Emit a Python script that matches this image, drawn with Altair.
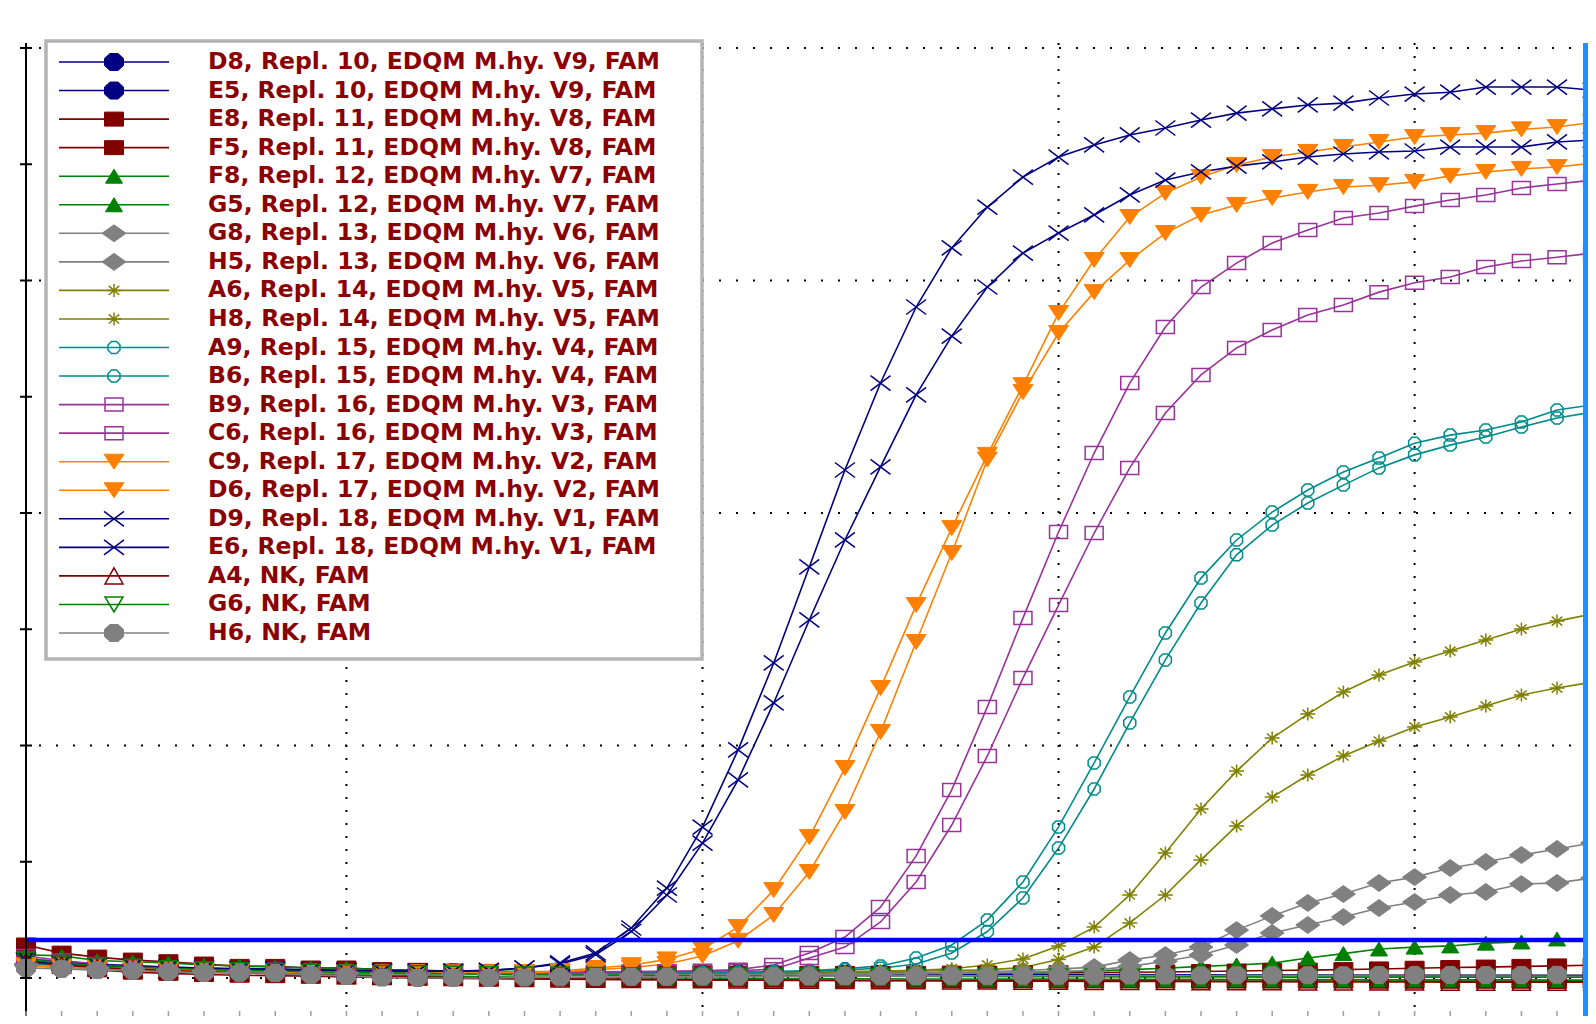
import math
import altair as alt
import pandas as pd

# ---------------- data ----------------
cycles = list(range(1, 46))

labels = [
    "D8, Repl. 10, EDQM M.hy. V9, FAM",
    "E5, Repl. 10, EDQM M.hy. V9, FAM",
    "E8, Repl. 11, EDQM M.hy. V8, FAM",
    "F5, Repl. 11, EDQM M.hy. V8, FAM",
    "F8, Repl. 12, EDQM M.hy. V7, FAM",
    "G5, Repl. 12, EDQM M.hy. V7, FAM",
    "G8, Repl. 13, EDQM M.hy. V6, FAM",
    "H5, Repl. 13, EDQM M.hy. V6, FAM",
    "A6, Repl. 14, EDQM M.hy. V5, FAM",
    "H8, Repl. 14, EDQM M.hy. V5, FAM",
    "A9, Repl. 15, EDQM M.hy. V4, FAM",
    "B6, Repl. 15, EDQM M.hy. V4, FAM",
    "B9, Repl. 16, EDQM M.hy. V3, FAM",
    "C6, Repl. 16, EDQM M.hy. V3, FAM",
    "C9, Repl. 17, EDQM M.hy. V2, FAM",
    "D6, Repl. 17, EDQM M.hy. V2, FAM",
    "D9, Repl. 18, EDQM M.hy. V1, FAM",
    "E6, Repl. 18, EDQM M.hy. V1, FAM",
    "A4, NK, FAM",
    "G6, NK, FAM",
    "H6, NK, FAM",
]

D8 = [0.75, 0.62, 0.55, 0.5, 0.46, 0.42, 0.4, 0.37, 0.34, 0.3,
      0.27, 0.25, 0.24, 0.22, 0.21, 0.2, 0.2, 0.19, 0.19, 0.18,
      0.18, 0.18, 0.17, 0.17, 0.17, 0.16, 0.16, 0.16, 0.15, 0.15,
      0.15, 0.15, 0.14, 0.14, 0.14, 0.14, 0.14, 0.13, 0.13, 0.13,
      0.13, 0.13, 0.13, 0.12, 0.12]
E5 = [0.7, 0.6, 0.52, 0.47, 0.43, 0.4, 0.37, 0.34, 0.31, 0.28,
      0.25, 0.23, 0.21, 0.2, 0.19, 0.18, 0.17, 0.17, 0.16, 0.16,
      0.15, 0.15, 0.15, 0.14, 0.14, 0.14, 0.13, 0.13, 0.13, 0.13,
      0.12, 0.12, 0.12, 0.12, 0.11, 0.11, 0.11, 0.11, 0.11, 0.1,
      0.1, 0.1, 0.1, 0.1, 0.1]
E8 = [1.42, 1.07, 0.9, 0.77, 0.7, 0.6, 0.5, 0.5, 0.43, 0.43,
      0.36, 0.33, 0.3, 0.28, 0.26, 0.25, 0.24, 0.23, 0.22, 0.22,
      0.21, 0.21, 0.2, 0.2, 0.2, 0.2, 0.21, 0.21, 0.22, 0.23,
      0.24, 0.25, 0.26, 0.28, 0.3, 0.32, 0.34, 0.36, 0.39, 0.42,
      0.45, 0.47, 0.5, 0.52, 0.55]
F5 = [0.9, 0.55, 0.35, 0.25, 0.2, 0.15, 0.12, 0.1, 0.08, 0.05,
      0.02, 0.0, -0.02, -0.03, -0.04, -0.05, -0.06, -0.07, -0.07, -0.08,
      -0.08, -0.09, -0.09, -0.1, -0.1, -0.1, -0.11, -0.11, -0.11, -0.12,
      -0.12, -0.12, -0.12, -0.13, -0.13, -0.13, -0.13, -0.13, -0.14, -0.14,
      -0.14, -0.14, -0.14, -0.15, -0.15]
F8 = [1.0, 0.95, 0.75, 0.7, 0.65, 0.56, 0.52, 0.48, 0.43, 0.43,
      0.35, 0.32, 0.3, 0.3, 0.28, 0.27, 0.26, 0.25, 0.25, 0.24,
      0.24, 0.23, 0.23, 0.23, 0.22, 0.22, 0.22, 0.23, 0.24, 0.26,
      0.3, 0.36, 0.42, 0.5, 0.56, 0.64, 0.86, 1.05, 1.25, 1.33,
      1.38, 1.5, 1.55, 1.68, 1.62]
G5 = [0.85, 0.7, 0.55, 0.45, 0.38, 0.32, 0.27, 0.22, 0.18, 0.15,
      0.12, 0.09, 0.07, 0.05, 0.04, 0.03, 0.02, 0.01, 0.0, 0.0,
      -0.01, -0.02, -0.02, -0.03, -0.03, -0.04, -0.04, -0.05, -0.05, -0.05,
      -0.06, -0.06, -0.06, -0.06, -0.07, -0.07, -0.07, -0.07, -0.08, -0.08,
      -0.08, -0.08, -0.08, -0.09, -0.09]
G8 = [0.6, 0.5, 0.44, 0.4, 0.36, 0.32, 0.3, 0.27, 0.24, 0.22,
      0.2, 0.18, 0.17, 0.16, 0.15, 0.14, 0.14, 0.14, 0.14, 0.15,
      0.15, 0.16, 0.17, 0.18, 0.2, 0.22, 0.25, 0.28, 0.32, 0.38,
      0.47, 0.77, 0.99, 1.33, 2.06, 2.67, 3.23, 3.61, 4.09, 4.34,
      4.73, 4.99, 5.29, 5.55, 5.81]
H5 = [0.55, 0.45, 0.4, 0.36, 0.33, 0.3, 0.27, 0.25, 0.22, 0.2,
      0.18, 0.17, 0.16, 0.15, 0.14, 0.13, 0.13, 0.13, 0.13, 0.13,
      0.14, 0.14, 0.15, 0.16, 0.17, 0.18, 0.2, 0.22, 0.25, 0.28,
      0.33, 0.5, 0.72, 0.99, 1.42, 1.94, 2.28, 2.62, 3.01, 3.27,
      3.57, 3.7, 4.04, 4.09, 4.3]
A6 = [0.65, 0.55, 0.48, 0.43, 0.39, 0.35, 0.32, 0.3, 0.28, 0.26,
      0.25, 0.24, 0.23, 0.22, 0.22, 0.22, 0.22, 0.22, 0.23, 0.23,
      0.24, 0.25, 0.26, 0.28, 0.3, 0.33, 0.4, 0.56, 0.82, 1.38,
      2.19, 3.57, 5.38, 7.27, 8.9, 10.32, 11.35, 12.3, 13.03, 13.59,
      14.06, 14.54, 15.01, 15.35, 15.66]
H8 = [0.6, 0.5, 0.45, 0.4, 0.37, 0.34, 0.31, 0.29, 0.27, 0.25,
      0.24, 0.23, 0.22, 0.21, 0.21, 0.21, 0.21, 0.21, 0.21, 0.22,
      0.22, 0.23, 0.24, 0.25, 0.27, 0.29, 0.32, 0.35, 0.45, 0.8,
      1.33, 2.37, 3.57, 5.08, 6.54, 7.78, 8.73, 9.55, 10.19, 10.8,
      11.23, 11.7, 12.17, 12.47, 12.73]
A9 = [0.65, 0.55, 0.48, 0.42, 0.38, 0.34, 0.31, 0.29, 0.27, 0.25,
      0.24, 0.23, 0.22, 0.22, 0.22, 0.22, 0.22, 0.23, 0.23, 0.24,
      0.25, 0.28, 0.32, 0.4, 0.52, 0.86, 1.42, 2.49, 4.13, 6.5,
      9.25, 12.09, 14.84, 17.2, 18.84, 20.04, 20.99, 21.76, 22.37, 23.0,
      23.35, 23.57, 23.91, 24.43, 24.65]
B6 = [0.6, 0.52, 0.46, 0.41, 0.37, 0.33, 0.3, 0.28, 0.26, 0.24,
      0.23, 0.22, 0.21, 0.21, 0.21, 0.21, 0.21, 0.22, 0.22, 0.23,
      0.24, 0.26, 0.29, 0.35, 0.42, 0.6, 1.08, 2.0, 3.44, 5.59,
      8.13, 10.97, 13.68, 16.13, 18.2, 19.48, 20.43, 21.2, 21.94, 22.5,
      22.92, 23.27, 23.7, 24.09, 24.34]
B9 = [0.95, 0.75, 0.6, 0.52, 0.46, 0.41, 0.38, 0.35, 0.32, 0.3,
      0.28, 0.27, 0.26, 0.26, 0.26, 0.26, 0.27, 0.28, 0.29, 0.31,
      0.36, 0.56, 1.08, 1.76, 3.05, 5.25, 8.09, 11.66, 15.48, 19.18,
      22.58, 25.59, 28.0, 29.72, 30.75, 31.61, 32.17, 32.69, 32.9, 33.2,
      33.46, 33.68, 33.98, 34.15, 34.32]
C6 = [0.85, 0.68, 0.56, 0.49, 0.44, 0.4, 0.37, 0.34, 0.31, 0.29,
      0.27, 0.26, 0.25, 0.25, 0.25, 0.25, 0.26, 0.27, 0.28, 0.29,
      0.31, 0.38, 0.86, 1.33, 2.41, 4.13, 6.58, 9.55, 12.9, 16.04,
      19.14, 21.94, 24.3, 25.94, 27.1, 27.87, 28.52, 28.95, 29.5, 29.9,
      30.15, 30.58, 30.84, 31.0, 31.18]
C9 = [0.55, 0.5, 0.45, 0.4, 0.36, 0.32, 0.3, 0.28, 0.26, 0.25,
      0.24, 0.24, 0.24, 0.24, 0.25, 0.3, 0.43, 0.55, 0.8, 1.25,
      2.19, 3.78, 6.06, 9.03, 12.47, 16.04, 19.35, 22.5, 25.5, 28.6,
      30.88, 32.73, 33.76, 34.45, 34.97, 35.31, 35.53, 35.74, 35.96, 36.17,
      36.26, 36.34, 36.5, 36.6, 36.8]
D6 = [0.5, 0.46, 0.42, 0.38, 0.34, 0.31, 0.29, 0.27, 0.25, 0.24,
      0.23, 0.23, 0.23, 0.23, 0.24, 0.27, 0.35, 0.45, 0.6, 0.95,
      1.6, 2.71, 4.56, 7.14, 10.58, 14.45, 18.28, 22.3, 25.2, 27.74,
      29.5, 30.88, 32.04, 32.82, 33.25, 33.55, 33.81, 34.02, 34.1, 34.24,
      34.5, 34.67, 34.8, 34.88, 35.05]
D9 = [0.8, 0.65, 0.58, 0.52, 0.47, 0.43, 0.4, 0.38, 0.35, 0.33,
      0.31, 0.3, 0.3, 0.33, 0.43, 0.65, 1.08, 2.15, 3.87, 6.49,
      9.81, 13.55, 17.68, 21.85, 25.59, 28.86, 31.4, 33.16, 34.45, 35.31,
      35.83, 36.26, 36.56, 36.9, 37.2, 37.38, 37.55, 37.63, 37.85, 38.02,
      38.1, 38.32, 38.32, 38.32, 38.19]
E6 = [0.75, 0.62, 0.55, 0.5, 0.45, 0.41, 0.38, 0.36, 0.34, 0.32,
      0.3, 0.29, 0.29, 0.32, 0.43, 0.6, 1.0, 2.0, 3.57, 5.8,
      8.52, 11.83, 15.4, 18.84, 21.98, 25.08, 27.61, 29.72, 31.18, 32.04,
      32.82, 33.68, 34.32, 34.67, 34.92, 35.1, 35.31, 35.44, 35.53, 35.57,
      35.74, 35.74, 35.74, 35.96, 36.04]
A4 = [0.7, 0.55, 0.45, 0.38, 0.32, 0.27, 0.22, 0.18, 0.14, 0.1,
      0.07, 0.04, 0.02, 0.0, -0.02, -0.04, -0.05, -0.06, -0.07, -0.08,
      -0.09, -0.1, -0.1, -0.11, -0.12, -0.12, -0.13, -0.13, -0.14, -0.14,
      -0.15, -0.15, -0.15, -0.16, -0.16, -0.16, -0.17, -0.17, -0.17, -0.17,
      -0.18, -0.18, -0.18, -0.18, -0.18]
G6 = [0.8, 0.65, 0.55, 0.48, 0.42, 0.37, 0.33, 0.3, 0.27, 0.24,
      0.22, 0.2, 0.18, 0.16, 0.15, 0.14, 0.13, 0.12, 0.11, 0.1,
      0.1, 0.09, 0.09, 0.08, 0.08, 0.07, 0.07, 0.07, 0.06, 0.06,
      0.06, 0.05, 0.05, 0.05, 0.05, 0.04, 0.04, 0.04, 0.04, 0.04,
      0.03, 0.03, 0.03, 0.03, 0.03]
H6 = [0.43, 0.39, 0.34, 0.31, 0.27, 0.22, 0.22, 0.21, 0.13, 0.09,
      0.02, 0.0, 0.0, 0.0, 0.02, 0.03, 0.04, 0.05, 0.05, 0.06,
      0.06, 0.07, 0.07, 0.08, 0.08, 0.08, 0.09, 0.09, 0.1, 0.1,
      0.1, 0.11, 0.11, 0.11, 0.12, 0.12, 0.12, 0.12, 0.13, 0.13,
      0.13, 0.13, 0.13, 0.14, 0.14]

series_values = [D8, E5, E8, F5, F8, G5, G8, H5, A6, H8, A9, B6,
                 B9, C6, C9, D6, D9, E6, A4, G6, H6]

y_tick_values = [0, 5, 10, 15, 20, 25, 30, 35, 40]
grid_y_values = [0, 10, 20, 30, 40]
grid_x_values = [10, 20, 30, 40]
threshold_values = [1.63]
first_cycle = [1]

X_MIN, X_MAX = 1, 44.87
Y_MIN, Y_MAX = -1.634, 40.215

# ---------------- styles ----------------
styles = ["oct_navy", "oct_navy", "sq_red", "sq_red", "tri_green", "tri_green",
          "dia_gray", "dia_gray", "ast_olive", "ast_olive", "circ_teal", "circ_teal",
          "sq_purple", "sq_purple", "tri_orange", "tri_orange", "x_navy", "x_navy",
          "tri_red_open", "tri_green_open", "oct_gray"]

MARKERS = {
    "oct_navy": dict(kind="oct", color="#000080", filled=True, hw=9.5, hh=8.5),
    "sq_red": dict(kind="sq", color="#800000", filled=True, hw=9.5, hh=7.0),
    "tri_green": dict(kind="tri_up", color="#008000", filled=True, hw=8.5, hh=7.0),
    "dia_gray": dict(kind="dia", color="#808080", filled=True, hw=12.0, hh=8.5),
    "ast_olive": dict(kind="ast", color="#808000", filled=False, hw=7.5, hh=6.5),
    "circ_teal": dict(kind="oct", color="#008b8b", filled=False, hw=6.0, hh=6.0),
    "sq_purple": dict(kind="sq", color="#993399", filled=False, hw=9.0, hh=6.5),
    "tri_orange": dict(kind="tri_dn", color="#ff8000", filled=True, hw=10.0, hh=7.5),
    "x_navy": dict(kind="x", color="#000080", filled=False, hw=10.0, hh=7.5),
    "tri_red_open": dict(kind="tri_up", color="#800000", filled=False, hw=9.0, hh=8.0),
    "tri_green_open": dict(kind="tri_dn", color="#008000", filled=False, hw=9.0, hh=7.5),
    "oct_gray": dict(kind="oct", color="#808080", filled=True, hw=9.5, hh=8.5),
}


def geometry(kind, hw, hh):
    if kind == "oct":
        a, b = 0.42 * hw, 0.42 * hh
        return "poly", [(-a, -hh), (a, -hh), (hw, -b), (hw, b), (a, hh), (-a, hh), (-hw, b), (-hw, -b)]
    if kind == "sq":
        return "poly", [(-hw, -hh), (hw, -hh), (hw, hh), (-hw, hh)]
    if kind == "tri_up":
        return "poly", [(0, -hh), (hw, hh), (-hw, hh)]
    if kind == "tri_dn":
        return "poly", [(-hw, -hh), (hw, -hh), (0, hh)]
    if kind == "dia":
        return "poly", [(0, -hh), (hw, 0), (0, hh), (-hw, 0)]
    if kind == "x":
        return "segs", [((-hw, -hh), (hw, hh)), ((-hw, hh), (hw, -hh))]
    return "segs", [((-hw, 0), (hw, 0)), ((0, -hh), (0, hh)),
                    ((-0.7 * hw, -0.7 * hh), (0.7 * hw, 0.7 * hh)),
                    ((-0.7 * hw, 0.7 * hh), (0.7 * hw, -0.7 * hh))]


def fmt(v):
    s = f"{v:.4f}".rstrip("0").rstrip(".")
    return "0" if s in ("-0", "", "-") else s


def marker_path(m):
    kind, geom = geometry(m["kind"], m["hw"], m["hh"])
    s = m["hw"]
    if kind == "poly":
        return "M" + "L".join(f"{fmt(x / s)},{fmt(y / s)}" for x, y in geom) + "Z"
    return "".join(f"M{fmt(p[0] / s)},{fmt(p[1] / s)}L{fmt(q[0] / s)},{fmt(q[1] / s)}" for p, q in geom)


def point_mark(data, m):
    size = (2 * m["hw"]) ** 2
    if m["filled"]:
        return data.mark_point(shape=marker_path(m), size=size, filled=True, fill=m["color"],
                               stroke=m["color"], strokeWidth=1, opacity=1)
    return data.mark_point(shape=marker_path(m), size=size, filled=False,
                           stroke=m["color"], strokeWidth=1.5, opacity=1)


colors = [MARKERS[s]["color"] for s in styles]
style_keys = list(dict.fromkeys(styles))

rows = []
for lab, vals in zip(labels, series_values):
    assert len(vals) == len(cycles), lab
    for c, v in zip(cycles, vals):
        rows.append({"series": lab, "cycle": c, "value": v})
df = pd.DataFrame(rows)
df_leg = pd.DataFrame({"series": labels})

# ---------------- plot ----------------
X_SCALE = alt.Scale(domain=[X_MIN, X_MAX], nice=False, zero=False)
Y_SCALE = alt.Scale(domain=[Y_MIN, Y_MAX], nice=False, zero=False)
COLOR_SCALE = alt.Scale(domain=labels, range=colors)

base = alt.Chart(df)

vgrid = alt.Chart(pd.DataFrame({"gx": grid_x_values})).mark_rule(
    stroke="#000000", strokeWidth=2, strokeDash=[2, 11]
).encode(x=alt.X("gx:Q", scale=X_SCALE, axis=None))

hgrid = alt.Chart(pd.DataFrame({"gy": grid_y_values})).mark_rule(
    stroke="#000000", strokeWidth=2, strokeDash=[2, 15]
).encode(y=alt.Y("gy:Q", scale=Y_SCALE, axis=None))

lines = base.mark_line(strokeWidth=1.6).encode(
    x=alt.X("cycle:Q", scale=X_SCALE, axis=None),
    y=alt.Y("value:Q", scale=Y_SCALE, axis=None),
    stroke=alt.Stroke("series:N", scale=COLOR_SCALE, legend=None),
)

point_layers = []
for key in style_keys:
    members = [lab for lab, s in zip(labels, styles) if s == key]
    point_layers.append(
        point_mark(base, MARKERS[key]).encode(
            x=alt.X("cycle:Q", scale=X_SCALE, axis=None),
            y=alt.Y("value:Q", scale=Y_SCALE, axis=None),
        ).transform_filter(alt.FieldOneOfPredicate(field="series", oneOf=members))
    )

thr = alt.Chart(pd.DataFrame({"thr": threshold_values})).mark_rule(
    stroke="#0000ff", strokeWidth=4.5
).encode(y=alt.Y("thr:Q", scale=Y_SCALE, axis=None))

edge = alt.Chart(pd.DataFrame({"edge": [X_MAX]})).mark_rule(
    stroke="#1e90ff", strokeWidth=5, xOffset=-2.5
).encode(x=alt.X("edge:Q", scale=X_SCALE, axis=None))

yline = alt.Chart(pd.DataFrame({"ax": first_cycle})).mark_rule(
    stroke="#000000", strokeWidth=2
).encode(x=alt.X("ax:Q", scale=X_SCALE, axis=None))

yticks = alt.Chart(pd.DataFrame({"yt": y_tick_values})).mark_tick(
    orient="horizontal", size=12, thickness=2, color="#000000", opacity=1
).encode(y=alt.Y("yt:Q", scale=Y_SCALE, axis=None), x=alt.value(0))

xticks = alt.Chart(pd.DataFrame({"xt": cycles, "yb": [Y_MIN] * len(cycles)})).mark_tick(
    orient="vertical", size=10, thickness=1.5, color="#a0a0a0", opacity=1
).encode(x=alt.X("xt:Q", scale=X_SCALE, axis=None), y=alt.Y("yb:Q", scale=Y_SCALE, axis=None))

main = alt.layer(vgrid, hgrid, lines, *point_layers, thr, edge, yline, yticks, xticks)

# ---------------- legend (rows placed by a point scale) ----------------
ROW_FIRST, ROW_STEP = 19, 28.55
LEG_Y = alt.Scale(type="point", domain=labels, padding=0,
                  range=[ROW_FIRST, ROW_FIRST + ROW_STEP * (len(labels) - 1)])
BOX_X, BOX_X2, BOX_Y, BOX_Y2 = 20, 676, -2, 616
LINE_X, LINE_X2, MARK_X, TEXT_X = 33, 143, 88, 182

leg_box = alt.Chart(pd.DataFrame({"series": labels[:1]})).mark_rect(
    fill="#ffffff", stroke="#b4b4b4", strokeWidth=3.5
).encode(x=alt.value(BOX_X), x2=alt.value(BOX_X2), y=alt.value(BOX_Y), y2=alt.value(BOX_Y2))

leg_base = alt.Chart(df_leg)
leg_lines = leg_base.mark_rule(strokeWidth=1.6).encode(
    y=alt.Y("series:N", scale=LEG_Y, axis=None),
    x=alt.value(LINE_X), x2=alt.value(LINE_X2),
    stroke=alt.Stroke("series:N", scale=COLOR_SCALE, legend=None),
)
leg_points = []
for key in style_keys:
    members = [lab for lab, s in zip(labels, styles) if s == key]
    leg_points.append(
        point_mark(leg_base, MARKERS[key]).encode(
            y=alt.Y("series:N", scale=LEG_Y, axis=None), x=alt.value(MARK_X)
        ).transform_filter(alt.FieldOneOfPredicate(field="series", oneOf=members))
    )
leg_text = leg_base.mark_text(
    align="left", baseline="middle", font="DejaVu Sans", fontSize=23.5, fontWeight="bold",
    color="#8b0000"
).encode(y=alt.Y("series:N", scale=LEG_Y, axis=None), x=alt.value(TEXT_X), text="series:N")

legend_group = alt.layer(leg_box, leg_lines, *leg_points, leg_text)

chart = alt.layer(main, legend_group).resolve_scale(y="independent").properties(
    width=1562, height=973,
    padding={"left": 18, "top": 35, "right": 0, "bottom": 0},
    autosize=alt.AutoSizeParams(type="none"),
).configure_view(strokeWidth=0)

chart.save("out.html", embed_options={"renderer": "svg", "actions": False})
